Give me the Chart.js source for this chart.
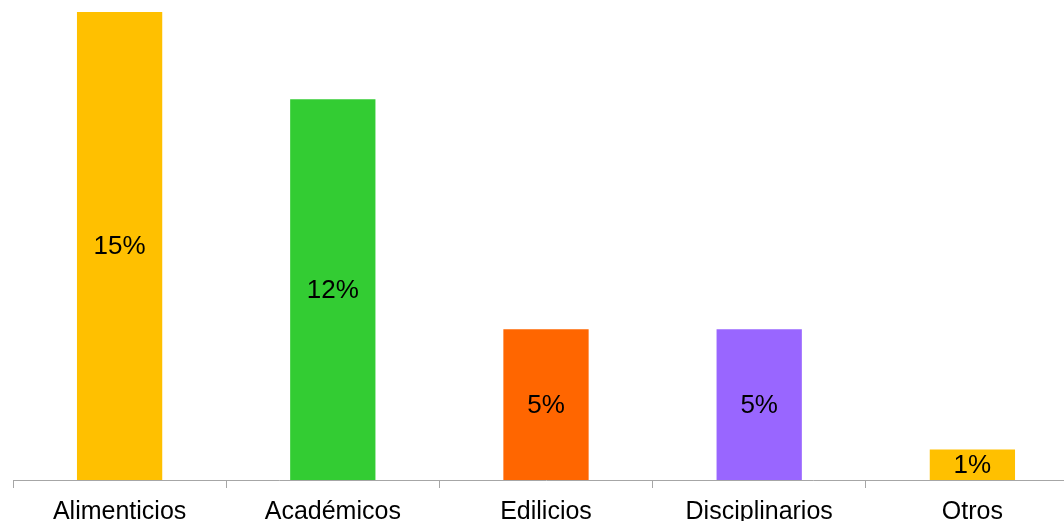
<!DOCTYPE html>
<html>
<head>
<meta charset="utf-8">
<script src="https://cdn.jsdelivr.net/npm/chart.js@4/dist/chart.umd.min.js"></script>
<style>
    html, body { margin: 0; padding: 0; background: #fff; overflow: hidden; }
    #wrap { width: 1079px; height: 521px; }
</style>
</head>
<body>
<div id="wrap"><canvas id="graph"></canvas></div>
<script>
// Data
const categories = ['Alimenticios', 'Académicos', 'Edilicios', 'Disciplinarios', 'Otros'];
const values = [15.3, 12.45, 4.93, 4.93, 1.0];
const barColors = ['#FFC000', '#33CC33', '#FF6600', '#9966FF', '#FFC000'];

// Draw the percentage in the middle of every bar
const centerLabels = {
    id: 'centerLabels',
    afterDatasetsDraw(chart) {
        const ctx = chart.ctx;
        const meta = chart.getDatasetMeta(0);
        ctx.save();
        ctx.font = '26px "Liberation Sans", Arial, sans-serif';
        ctx.fillStyle = '#000';
        ctx.textAlign = 'center';
        ctx.textBaseline = 'middle';
        meta.data.forEach((bar, i) => {
            const y = (bar.y + bar.base) / 2 + 1;
            ctx.fillText(Math.round(values[i]) + '%', bar.x, y);
        });
        ctx.restore();
    }
};

Chart.defaults.font.family = '"Liberation Sans", Arial, sans-serif';

const ctx = document.getElementById('graph').getContext('2d');
new Chart(ctx, {
    type: 'bar',
    data: {
        labels: categories,
        datasets: [{
            data: values,
            backgroundColor: barColors,
            borderWidth: 0,
            barPercentage: 0.4,
            categoryPercentage: 1
        }]
    },
    options: {
        responsive: true,
        maintainAspectRatio: false,
        animation: false,
        layout: { padding: { left: 13, right: 0, top: 12, bottom: 0 } },
        plugins: {
            legend: { display: false },
            tooltip: { enabled: false }
        },
        scales: {
            x: {
                afterFit: function(scale) { scale.height = 41; },
                border: { color: '#A6A6A6', width: 1 },
                grid: {
                    offset: true,
                    drawOnChartArea: false,
                    drawTicks: true,
                    tickLength: 8,
                    color: '#A6A6A6'
                },
                ticks: {
                    color: '#000',
                    font: { size: 25 },
                    padding: 9,
                    maxRotation: 0
                }
            },
            y: {
                display: false,
                min: 0,
                max: 15.3
            }
        }
    },
    plugins: [centerLabels]
});
</script>
</body>
</html>
